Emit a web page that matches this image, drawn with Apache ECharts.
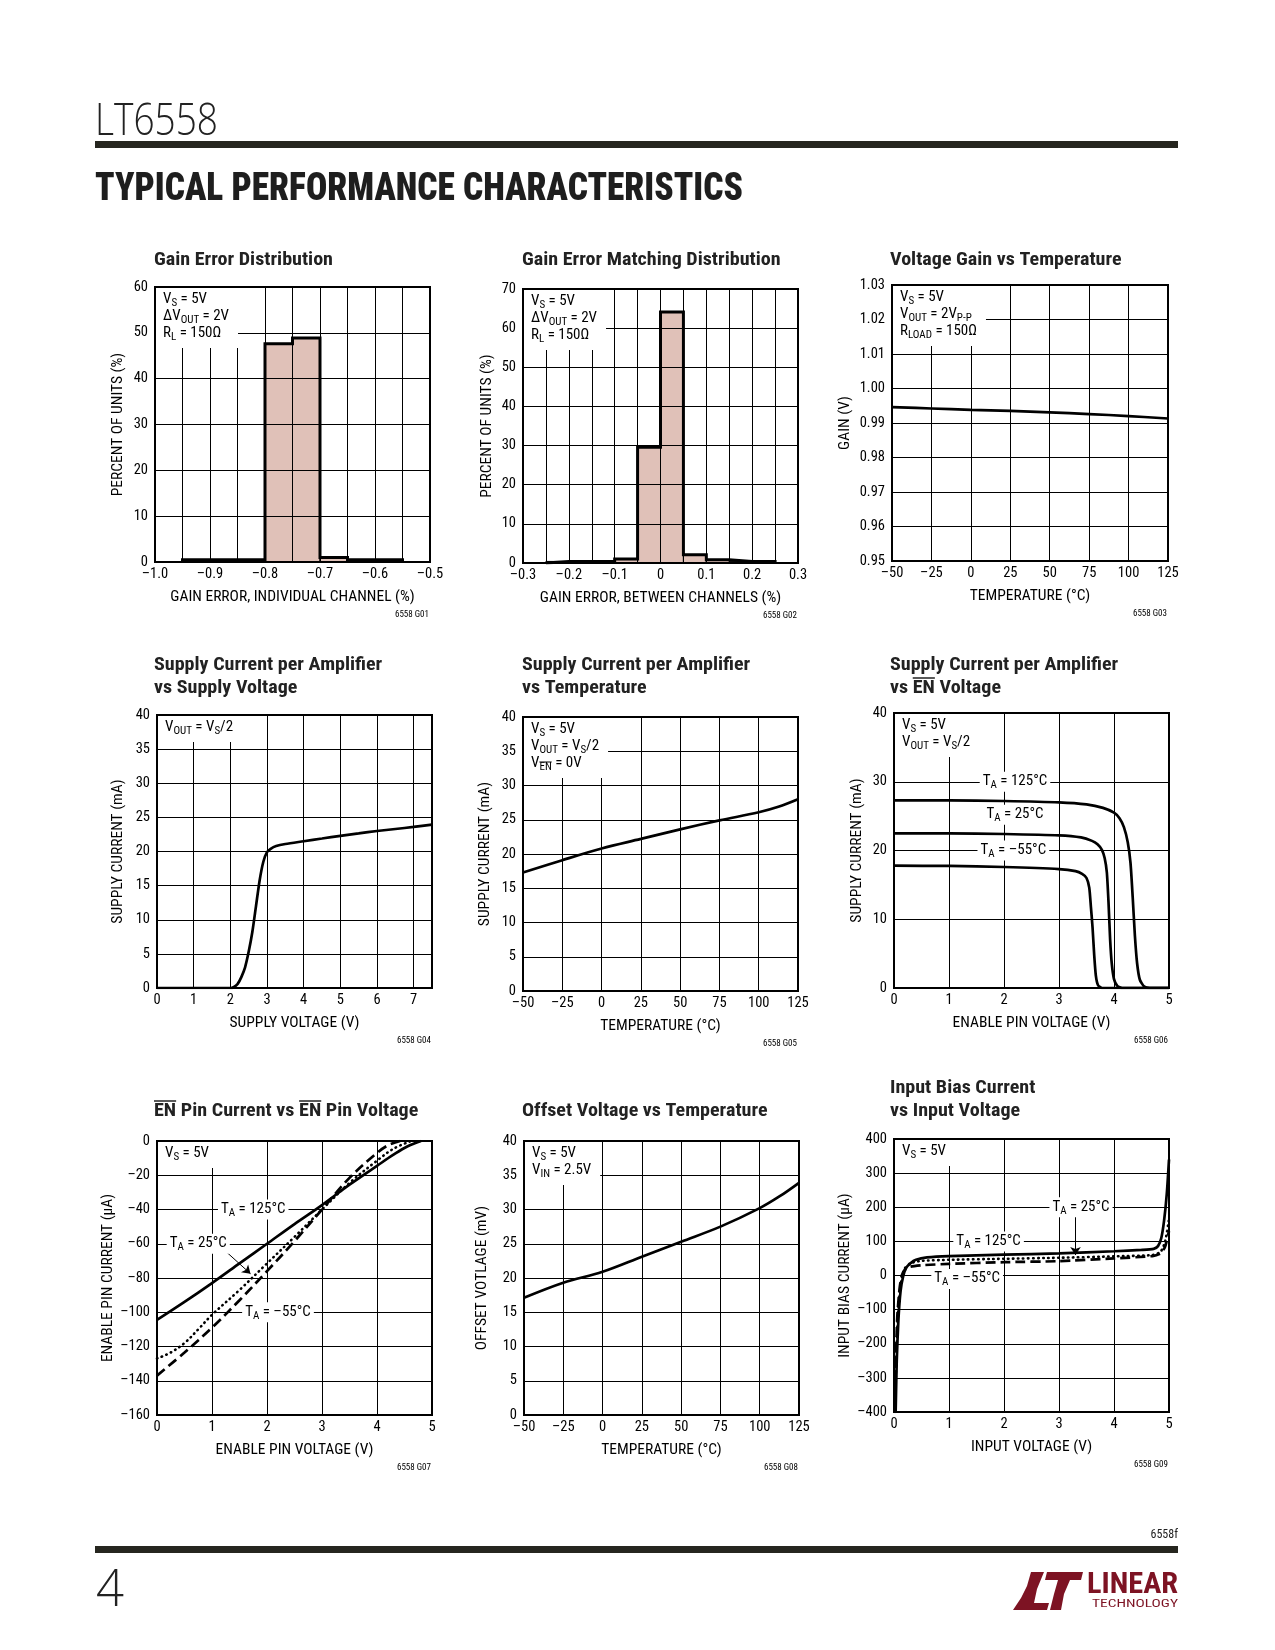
<!DOCTYPE html>
<html>
<head>
<meta charset="utf-8">
<script src="https://cdn.jsdelivr.net/npm/echarts@6.0.0/dist/echarts.min.js"></script>
<style>
html,body{margin:0;padding:0;background:#fff;}
#c{width:1275px;height:1650px;}
</style>
</head>
<body>
<div id="c"></div>
<script>
// ---------------- DATA ----------------
// Chart 1: Gain Error Distribution (histogram, bin width 0.05 %)
const ch1BinStart = [-0.95, -0.9, -0.85, -0.8, -0.75, -0.7, -0.65, -0.6];
const ch1Percent  = [0.5, 0.5, 0.5, 47.6, 48.9, 1.0, 0.5, 0.5];
const ch1BinWidth = 0.05;
// Chart 2: Gain Error Matching Distribution
const ch2BinStart = [-0.25, -0.2, -0.15, -0.1, -0.05, 0, 0.05, 0.1, 0.15, 0.2];
const ch2Percent  = [0.4, 0.4, 0.4, 1.0, 29.6, 64.1, 2.1, 0.85, 0.4, 0.4];
const ch2BinWidth = 0.05;
// Chart 3: Voltage Gain vs Temperature
const ch3Temp = [-50, -25, 0, 25, 50, 75, 100, 125];
const ch3Gain = [0.9946, 0.9942, 0.9938, 0.9935, 0.9931, 0.9926, 0.9920, 0.9913];
// Chart 4: Supply Current vs Supply Voltage
const ch4Volt = [0, 1, 2.0, 2.1, 2.2, 2.3, 2.4, 2.5, 2.6, 2.7, 2.8, 2.9, 3.0, 3.1, 3.25, 3.5, 4, 4.5, 5, 5.5, 6, 6.5, 7, 7.5];
const ch4Curr = [0, 0, 0, 0.15, 0.6, 1.6, 3.0, 5.3, 8.2, 12.0, 15.8, 18.5, 19.9, 20.4, 20.8, 21.1, 21.5, 21.9, 22.3, 22.65, 23.0, 23.3, 23.6, 23.95];
// Chart 5: Supply Current vs Temperature
const ch5Temp = [-50, -25, 0, 25, 50, 75, 100, 112.5, 125];
const ch5Curr = [17.3, 19.1, 20.8, 22.2, 23.6, 24.9, 26.1, 26.9, 28.0];
// Chart 6: Supply Current vs EN Voltage
const ch6V125 = [0, 1, 2, 3, 3.5, 3.8, 4.0, 4.1, 4.18, 4.25, 4.3, 4.34, 4.38, 4.42, 4.47, 4.55, 4.65, 5];
const ch6I125 = [27.3, 27.3, 27.2, 27.0, 26.7, 26.2, 25.5, 24.7, 23.4, 21.2, 18.2, 13.2, 7.6, 3.6, 1.2, 0.2, 0, 0];
const ch6V25  = [0, 1, 2, 3, 3.4, 3.6, 3.7, 3.78, 3.83, 3.87, 3.9, 3.93, 3.96, 4.0, 4.06, 4.15, 5];
const ch6I25  = [22.5, 22.5, 22.4, 22.2, 21.9, 21.4, 20.9, 20.1, 18.9, 16.8, 12.5, 7.0, 3.5, 1.3, 0.3, 0, 0];
const ch6Vm55 = [0, 1, 2, 3, 3.3, 3.42, 3.5, 3.55, 3.58, 3.61, 3.64, 3.67, 3.71, 3.78, 5];
const ch6Im55 = [17.8, 17.75, 17.6, 17.3, 17.0, 16.6, 16.0, 14.6, 11.8, 8.8, 4.8, 1.8, 0.4, 0, 0];
// Chart 7: EN Pin Current vs EN Pin Voltage
const ch7V125 = [0, 0.5, 1, 1.5, 2, 2.5, 3, 3.5, 4, 4.3, 4.55, 4.8];
const ch7I125 = [-104.5, -94, -83, -71.5, -60, -48.5, -37.4, -25.5, -14.5, -8, -3.2, 0];
const ch7V25  = [0, 0.25, 0.5, 0.75, 1, 1.5, 2, 2.5, 3, 3.5, 4, 4.3, 4.62];
const ch7I25  = [-127, -123.5, -118, -110, -101.5, -87, -71.5, -56, -40, -24.5, -11.5, -4.5, 0];
const ch7Vm55 = [0, 0.5, 1, 1.5, 2, 2.5, 3, 3.5, 4, 4.2, 4.42];
const ch7Im55 = [-137, -123.5, -109, -93, -76, -58.5, -40, -21.5, -7, -2.5, 0];
// Chart 8: Offset Voltage vs Temperature
const ch8Temp = [-50, -25, 0, 25, 50, 75, 100, 112.5, 125];
const ch8Vos  = [17.1, 19.3, 20.9, 23.1, 25.3, 27.5, 30.2, 31.9, 33.9];
// Chart 9: Input Bias Current vs Input Voltage
const ch9V125 = [0.03, 0.05, 0.08, 0.12, 0.17, 0.22, 0.3, 0.4, 0.6, 1, 2, 3, 4, 4.5, 4.72, 4.8, 4.86, 4.91, 4.96, 5];
const ch9I125 = [-400, -250, -130, -45, 0, 22, 36, 46, 53, 57, 61, 65, 71, 75, 78, 86, 110, 160, 240, 340];
const ch9V25  = [0.02, 0.04, 0.07, 0.11, 0.15, 0.2, 0.3, 0.5, 1, 2, 3, 4, 4.7, 4.85, 4.93, 5];
const ch9I25  = [-400, -250, -120, -40, 0, 22, 36, 43, 46, 49, 52, 56, 60, 70, 100, 165];
const ch9Vm55 = [0.02, 0.035, 0.06, 0.1, 0.14, 0.2, 0.3, 0.5, 1, 2, 3, 4, 4.7, 4.85, 4.93, 5];
const ch9Im55 = [-400, -250, -120, -40, 0, 18, 26, 30, 34, 39, 42, 50, 57, 65, 85, 130];

// Titles / texts
const chartTitles = [
  ['Gain Error Distribution'],
  ['Gain Error Matching Distribution'],
  ['Voltage Gain vs Temperature'],
  ['Supply Current per Amplifier', 'vs Supply Voltage'],
  ['Supply Current per Amplifier', 'vs Temperature'],
  ['Supply Current per Amplifier', 'vs EN Voltage'],
  ['EN Pin Current vs EN Pin Voltage'],
  ['Offset Voltage vs Temperature'],
  ['Input Bias Current', 'vs Input Voltage']
];
const xNames = ['GAIN ERROR, INDIVIDUAL CHANNEL (%)', 'GAIN ERROR, BETWEEN CHANNELS (%)', 'TEMPERATURE (°C)',
  'SUPPLY VOLTAGE (V)', 'TEMPERATURE (°C)', 'ENABLE PIN VOLTAGE (V)',
  'ENABLE PIN VOLTAGE (V)', 'TEMPERATURE (°C)', 'INPUT VOLTAGE (V)'];
const yNames = ['PERCENT OF UNITS (%)', 'PERCENT OF UNITS (%)', 'GAIN (V)',
  'SUPPLY CURRENT (mA)', 'SUPPLY CURRENT (mA)', 'SUPPLY CURRENT (mA)',
  'ENABLE PIN CURRENT (µA)', 'OFFSET VOTLAGE (mV)', 'INPUT BIAS CURRENT (µA)'];
const chartCodes = ['6558 G01','6558 G02','6558 G03','6558 G04','6558 G05','6558 G06','6558 G07','6558 G08','6558 G09'];
const notes = [
  ['{n|V}{s|S}{n| = 5V}', '{n|ΔV}{s|OUT}{n| = 2V}', '{n|R}{s|L}{n| = 150Ω}'],
  ['{n|V}{s|S}{n| = 5V}', '{n|ΔV}{s|OUT}{n| = 2V}', '{n|R}{s|L}{n| = 150Ω}'],
  ['{n|V}{s|S}{n| = 5V}', '{n|V}{s|OUT}{n| = 2V}{s|P-P}', '{n|R}{s|LOAD}{n| = 150Ω}'],
  ['{n|V}{s|OUT}{n| = V}{s|S}{n|/2}'],
  ['{n|V}{s|S}{n| = 5V}', '{n|V}{s|OUT}{n| = V}{s|S}{n|/2}', '{n|V}{s|EN}{n| = 0V}'],
  ['{n|V}{s|S}{n| = 5V}', '{n|V}{s|OUT}{n| = V}{s|S}{n|/2}'],
  ['{n|V}{s|S}{n| = 5V}'],
  ['{n|V}{s|S}{n| = 5V}', '{n|V}{s|IN}{n| = 2.5V}'],
  ['{n|V}{s|S}{n| = 5V}']
];

// ---------------- LAYOUT ----------------
const FF = "'Liberation Sans Narrow','Arial Narrow','Roboto Condensed','Liberation Sans',sans-serif";
const LAYOUT = [
  [155,287,275,275],[523,289,275,274],[892,285,276,276],
  [157,715,275,273],[523,717,275,274],[894,713,275,275],
  [157,1141,275,274],[524,1141,275,274],[894,1139,275,273]
];
const TITLE_POS = [[154,260],[522,260],[890,260],[154,665],[522,665],[890,665],[154,1111],[522,1111],[890,1088]];
const Y_GAP = [37,36,47,39,38,37,47,42,49];

const mctx = document.createElement('canvas').getContext('2d');
function tw(text, font){ mctx.font = font; return mctx.measureText(text).width; }

function numFmt(dec, step){
  return function(v){
    if (step && Math.abs(Math.round(v/step)*step - v) > 1e-6) return '';
    if (Math.abs(v) < 1e-9) return '0';
    const s = Math.abs(v).toFixed(dec);
    return v < 0 ? '\u2013' + s : s;
  };
}
const AX = [
  {x:[-1,-0.5,0.05,numFmt(1,0.1)], y:[0,60,10,numFmt(0)]},
  {x:[-0.3,0.3,0.05,numFmt(1,0.1)], y:[0,70,10,numFmt(0)]},
  {x:[-50,125,25,numFmt(0)], y:[0.95,1.03,0.01,numFmt(2)]},
  {x:[0,7.5,1,numFmt(0,1)], y:[0,40,5,numFmt(0)]},
  {x:[-50,125,25,numFmt(0)], y:[0,40,5,numFmt(0)]},
  {x:[0,5,1,numFmt(0)], y:[0,40,10,numFmt(0)]},
  {x:[0,5,1,numFmt(0)], y:[-160,0,20,numFmt(0)]},
  {x:[-50,125,25,numFmt(0)], y:[0,40,5,numFmt(0)]},
  {x:[0,5,1,numFmt(0)], y:[-400,400,100,numFmt(0)]}
];

const RICH_G = {
  n:{fontFamily:FF, fontSize:15, lineHeight:17, fill:'#000', color:'#000'},
  s:{fontFamily:FF, fontSize:11, lineHeight:9, padding:[8,0,0,0], fill:'#000', color:'#000'}
};

const grids = [], xAxes = [], yAxes = [], series = [], graphics = [];

LAYOUT.forEach((g, i) => {
  const hist = (i < 2);
  grids.push({left:g[0], top:g[1], width:g[2], height:g[3], show:true, borderColor:'#000', borderWidth:2, backgroundColor:'rgba(0,0,0,0)'});
  const ax = AX[i];
  xAxes.push({type:'value', gridIndex:i, min:ax.x[0], max:ax.x[1], interval:ax.x[2], z: hist?3:0,
    name:xNames[i], nameLocation:'middle', nameGap:35,
    nameTextStyle:{fontFamily:FF, fontSize:15.5, color:'#000', verticalAlign:'middle'},
    axisLine:{show:true, onZero:false, lineStyle:{color:'#000', width:2}},
    axisTick:{show:false},
    axisLabel:{fontFamily:FF, fontSize:14.5, color:'#000', margin:5, formatter:ax.x[3], showMinLabel:true, showMaxLabel:true, hideOverlap:false},
    splitLine:{show:true, lineStyle:{color:'#000', width:1}}
  });
  yAxes.push({type:'value', gridIndex:i, min:ax.y[0], max:ax.y[1], interval:ax.y[2], z: hist?3:0,
    name:yNames[i], nameLocation:'middle', nameGap:Y_GAP[i],
    nameTextStyle:{fontFamily:FF, fontSize:15.5, color:'#000', verticalAlign:'middle'},
    axisLine:{show:true, onZero:false, lineStyle:{color:'#000', width:2}},
    axisTick:{show:false},
    axisLabel:{fontFamily:FF, fontSize:14.5, color:'#000', margin:7, formatter:ax.y[3], showMinLabel:true, showMaxLabel:true, hideOverlap:false},
    splitLine:{show:true, lineStyle:{color:'#000', width:1}}
  });
});

// ---- histograms ----
function histRender(params, api){
  const p0 = api.coord([api.value(0), api.value(2)]);
  const p1 = api.coord([api.value(1), 0]);
  return {type:'rect', shape:{x:p0[0], y:p0[1], width:p1[0]-p0[0], height:p1[1]-p0[1]},
    style:{fill:'#e0c1b8', stroke:'#000', lineWidth:1}};
}
function outline(starts, vals, w){
  const pts = [[starts[0], 0]];
  starts.forEach((s, k) => { pts.push([s, vals[k]]); pts.push([s + w, vals[k]]); });
  pts.push([starts[starts.length-1] + w, 0]);
  return pts;
}
[[ch1BinStart, ch1Percent, ch1BinWidth], [ch2BinStart, ch2Percent, ch2BinWidth]].forEach((h, i) => {
  series.push({type:'custom', xAxisIndex:i, yAxisIndex:i, z:1, renderItem:histRender,
    encode:{x:[0,1], y:2}, data:h[0].map((s,k)=>[s, s+h[2], h[1][k]])});
  series.push({type:'line', xAxisIndex:i, yAxisIndex:i, z:4, symbol:'none', smooth:false,
    lineStyle:{color:'#000', width:3, join:'miter'}, data:outline(h[0], h[1], h[2])});
});

// ---- line helper ----
const zip = (a, b) => a.map((v, k) => [v, b[k]]);
function lineSeries(i, xs, ys, dash, extra){
  const s = {type:'line', xAxisIndex:i, yAxisIndex:i, z:2, symbol:'none', smooth:0.35,
    lineStyle:{color:'#000', width:2.7, type:'solid', cap:'butt'}, data:zip(xs, ys)};
  if (dash === 'dot') { s.lineStyle.type = [0.5, 4.5]; s.lineStyle.cap = 'round'; s.lineStyle.width = 2.6; }
  if (dash === 'dash') { s.lineStyle.type = [10, 5]; }
  return Object.assign(s, extra || {});
}
function tagLabel(txt){
  return {show:true, position:'inside', formatter:()=>txt, backgroundColor:'#fff', padding:[1,3,2,3],
    fontFamily:FF, fontSize:15, color:'#000', rich:RICH_G};
}
function tags(list){
  return {symbol:'rect', symbolSize:1, itemStyle:{color:'rgba(0,0,0,0)'}, silent:true,
    data:list.map(t => ({coord:t[0], value:0, label:tagLabel(t[1])}))};
}
function arrow(from, to){
  return {silent:true, symbol:['none','arrow'], symbolSize:8, label:{show:false},
    lineStyle:{color:'#000', width:1, type:'solid'}, data:[[{coord:from},{coord:to}]]};
}

series.push(lineSeries(2, ch3Temp, ch3Gain, 'solid'));
series.push(lineSeries(3, ch4Volt, ch4Curr, 'solid', {smooth:0.25}));
series.push(lineSeries(4, ch5Temp, ch5Curr, 'solid'));
series.push(lineSeries(5, ch6V125, ch6I125, 'solid', {smooth:0.2, markPoint:tags([
  [[2.2, 30], '{n|T}{s|A}{n| = 125°C}'],
  [[2.2, 25.2], '{n|T}{s|A}{n| = 25°C}'],
  [[2.17, 20], '{n|T}{s|A}{n| = –55°C}']])}));
series.push(lineSeries(5, ch6V25, ch6I25, 'solid', {smooth:0.2}));
series.push(lineSeries(5, ch6Vm55, ch6Im55, 'solid', {smooth:0.2}));
series.push(lineSeries(6, ch7V125, ch7I125, 'solid', {markPoint:tags([
  [[1.75, -40], '{n|T}{s|A}{n| = 125°C}'],
  [[0.75, -60], '{n|T}{s|A}{n| = 25°C}'],
  [[2.2, -100], '{n|T}{s|A}{n| = –55°C}']]), markLine:arrow([1.2, -63], [1.7, -77.5])}));
series.push(lineSeries(6, ch7V25, ch7I25, 'dot'));
series.push(lineSeries(6, ch7Vm55, ch7Im55, 'dash'));
series.push(lineSeries(7, ch8Temp, ch8Vos, 'solid'));
series.push(lineSeries(8, ch9V125, ch9I125, 'solid', {smooth:0.2, markPoint:tags([
  [[3.4, 200], '{n|T}{s|A}{n| = 25°C}'],
  [[1.72, 100], '{n|T}{s|A}{n| = 125°C}'],
  [[1.33, -10], '{n|T}{s|A}{n| = –55°C}']]), markLine:arrow([3.3, 172], [3.3, 60])}));
series.push(lineSeries(8, ch9V25, ch9I25, 'dot', {smooth:0.2}));
series.push(lineSeries(8, ch9Vm55, ch9Im55, 'dash', {smooth:0.2}));

// ---- graphics: titles, notes, codes ----
const TFONT = 'bold 18px ' + FF;
const tScale = 179 / tw('Gain Error Distribution', TFONT);
chartTitles.forEach((lines, i) => {
  lines.forEach((ln, k) => {
    const x = TITLE_POS[i][0], y = TITLE_POS[i][1] + k * 23;
    graphics.push({type:'text', x:x, y:y, scaleX:tScale, z:100,
      style:{text:ln, fontFamily:FF, fontSize:18, fontWeight:'bold', fill:'#222',
        align:'left', textAlign:'left', verticalAlign:'middle', textVerticalAlign:'middle'}});
    let idx = ln.indexOf('EN');
    while (idx >= 0) {
      const x0 = x + tw(ln.slice(0, idx), TFONT) * tScale;
      const w = tw('EN', TFONT) * tScale;
      graphics.push({type:'line', z:100, shape:{x1:x0, y1:y-10, x2:x0+w, y2:y-10}, style:{stroke:'#222', lineWidth:1.5}});
      idx = ln.indexOf('EN', idx + 2);
    }
  });
});
const NFONT = '15px ' + FF, SFONT = '11px ' + FF;
notes.forEach((lines, i) => {
  const g = LAYOUT[i];
  graphics.push({type:'text', x:g[0]+1, y:g[1]+1, z:100,
    style:{text:lines.join('\n'), rich:RICH_G, fontFamily:FF, fontSize:15, fill:'#000',
      backgroundColor:'#fff', padding:[3,9,6,7], align:'left', verticalAlign:'top'}});
});
(function(){
  const g = LAYOUT[4];
  const x0 = g[0] + 1 + 7 + tw('V', NFONT);
  const y0 = g[1] + 1 + 3 + 17*2 + 8.5 - 1.5;
  graphics.push({type:'line', z:101, shape:{x1:x0, y1:y0, x2:x0 + tw('EN', SFONT), y2:y0}, style:{stroke:'#000', lineWidth:1}});
})();
chartCodes.forEach((c, i) => {
  const g = LAYOUT[i];
  graphics.push({type:'text', x:g[0]+g[2]-1, y:g[1]+g[3]+53, z:100,
    style:{text:c, fontFamily:FF, fontSize:9, fill:'#000', align:'right', textAlign:'right', verticalAlign:'middle', textVerticalAlign:'middle'}});
});

// ---- page header / footer ----
const LIGHT = "'Open Sans','Lato','DejaVu Sans',sans-serif";
const HFONT = '300 45px ' + LIGHT;
graphics.push({type:'text', x:95, y:122, z:100, scaleX: 123 / tw('LT6558', HFONT),
  style:{text:'LT6558', fontFamily:LIGHT, fontWeight:300, fontSize:45, fill:'#222',
    align:'left', textAlign:'left', verticalAlign:'middle', textVerticalAlign:'middle'}});
graphics.push({type:'rect', z:100, shape:{x:95, y:141, width:1083, height:7}, style:{fill:'#26261f'}});
const SFONT2 = '900 38px ' + FF;
graphics.push({type:'text', x:95, y:190, z:100, scaleX: 648 / tw('TYPICAL PERFORMANCE CHARACTERISTICS', SFONT2),
  style:{text:'TYPICAL PERFORMANCE CHARACTERISTICS', fontFamily:FF, fontWeight:900, fontSize:38, fill:'#1e1e1e',
    align:'left', textAlign:'left', verticalAlign:'middle', textVerticalAlign:'middle'}});
graphics.push({type:'text', x:1178, y:1535, z:100,
  style:{text:'6558f', fontFamily:FF, fontSize:12, fill:'#222', align:'right', textAlign:'right', verticalAlign:'middle', textVerticalAlign:'middle'}});
graphics.push({type:'rect', z:100, shape:{x:95, y:1546, width:1083, height:7}, style:{fill:'#26261f'}});
const FFONT = '300 52px ' + LIGHT;
graphics.push({type:'text', x:96, y:1591, z:100, scaleX: 28 / tw('4', FFONT),
  style:{text:'4', fontFamily:LIGHT, fontWeight:300, fontSize:52, fill:'#222',
    align:'left', textAlign:'left', verticalAlign:'middle', textVerticalAlign:'middle'}});
const LOGO = '#7d1323';
graphics.push({type:'polygon', z:100, shape:{points:[[1031,1572],[1044,1572],[1037,1589],[1034,1603],[1049,1603],[1047,1610],[1013,1610],[1021,1598],[1027,1586]]}, style:{fill:LOGO}});
graphics.push({type:'polygon', z:100, shape:{points:[[1047,1572],[1083,1572],[1081,1580],[1070,1580],[1064,1594],[1061,1610],[1050,1610],[1054,1594],[1058,1580],[1045,1580]]}, style:{fill:LOGO}});
const LFONT = 'bold 30px ' + FF;
graphics.push({type:'text', x:1087, y:1585, z:100, scaleX: 91 / tw('LINEAR', LFONT),
  style:{text:'LINEAR', fontFamily:FF, fontWeight:'bold', fontSize:30, fill:LOGO, align:'left', textAlign:'left', verticalAlign:'middle', textVerticalAlign:'middle'}});
const TFONT2 = '11px ' + FF;
graphics.push({type:'text', x:1092, y:1604, z:100, scaleX: 86 / tw('TECHNOLOGY', TFONT2),
  style:{text:'TECHNOLOGY', fontFamily:FF, fontSize:11, fill:LOGO, align:'left', textAlign:'left', verticalAlign:'middle', textVerticalAlign:'middle'}});

const chart = echarts.init(document.getElementById('c'), null, {renderer:'canvas', width:1275, height:1650});
chart.setOption({
  animation:false,
  backgroundColor:'#fff',
  textStyle:{fontFamily:FF},
  grid:grids, xAxis:xAxes, yAxis:yAxes, series:series, graphic:{elements:graphics}
});
</script>
</body>
</html>
